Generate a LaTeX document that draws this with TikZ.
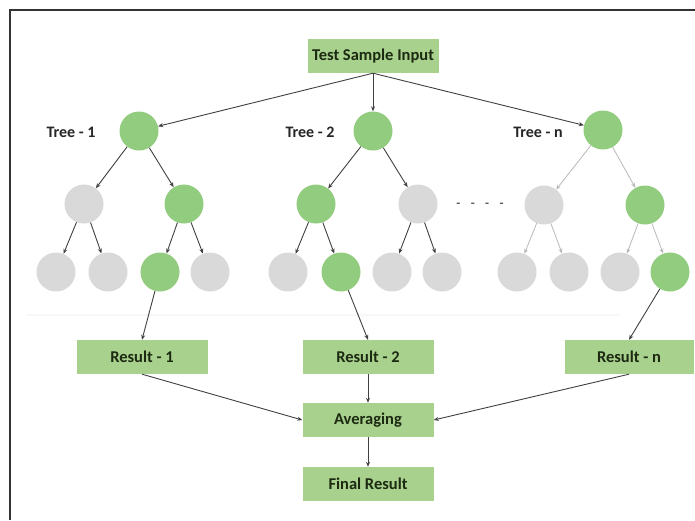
\documentclass[tikz,border=0pt]{standalone}
\usepackage{fontspec}
\setmainfont{Carlito}
\usetikzlibrary{arrows.meta}
\definecolor{boxgreen}{HTML}{A9D18E}
\definecolor{nodegreen}{HTML}{92CC7E}
\definecolor{nodegray}{HTML}{D9D9D9}
\definecolor{inkdark}{HTML}{1C2A12}
\definecolor{arrowdark}{HTML}{404040}
\tikzset{
  box/.style={rectangle, fill=boxgreen, minimum width=131pt, minimum height=34pt,
              inner sep=0pt, font=\bfseries\fontsize{16.5}{18}\selectfont, text=inkdark},
  gnode/.style={circle, fill=nodegreen, minimum size=39pt, inner sep=0pt},
  wnode/.style={circle, fill=nodegray, minimum size=39pt, inner sep=0pt},
  treelabel/.style={font=\bfseries\fontsize{16}{18}\selectfont, text=black!85},
  link/.style={draw=arrowdark, line width=0.9pt, -{Stealth[length=5pt,width=4pt]}},
  faintlink/.style={draw=gray!55, line width=0.8pt, -{Stealth[length=5pt,width=4pt]}},
}
\begin{document}
\begin{tikzpicture}[x=1pt,y=-1pt]
  \useasboundingbox (0,0) rectangle (695,520);
  \fill[white] (0,0) rectangle (695,520);
  % frame edges
  \draw[line width=2pt, black!80] (9.5,520) -- (9.5,10) -- (695,10);
  % faint separator
  \draw[line width=2pt, black!3] (27,315) -- (620,315);

  % input
  \node[box] (in) at (373,56) {Test Sample Input};

  % tree 1
  \node[gnode] (a0) at (139,131) {};
  \node[wnode] (a1) at (84,204) {};
  \node[gnode] (a2) at (184,204) {};
  \node[wnode] (a3) at (56,272) {};
  \node[wnode] (a4) at (108,272) {};
  \node[gnode] (a5) at (160,272) {};
  \node[wnode] (a6) at (210,272) {};
  \node[treelabel] (la) at (71,132) {Tree - 1};

  % tree 2
  \node[gnode] (b0) at (373,131) {};
  \node[gnode] (b1) at (316,204) {};
  \node[wnode] (b2) at (418,204) {};
  \node[wnode] (b3) at (288,272) {};
  \node[gnode] (b4) at (341,272) {};
  \node[wnode] (b5) at (392,272) {};
  \node[wnode] (b6) at (442,272) {};
  \node[treelabel] (lb) at (310,132) {Tree - 2};

  % tree n
  \node[gnode] (c0) at (603,130) {};
  \node[wnode] (c1) at (544,205) {};
  \node[gnode] (c2) at (645,205) {};
  \node[wnode] (c3) at (517,272) {};
  \node[wnode] (c4) at (569,272) {};
  \node[wnode] (c5) at (620,272) {};
  \node[gnode] (c6) at (670,272) {};
  \node[treelabel] (lc) at (538,132) {Tree - n};

  \node[font=\bfseries\fontsize{13}{14}\selectfont, text=black!65] (dots) at (480,205)
    {-\hspace{10.5pt}-\hspace{10.5pt}-\hspace{10.5pt}-};

  % results
  \node[box] (r1) at (142,357) {Result - 1};
  \node[box] (r2) at (368,357) {Result - 2};
  \node[box, minimum width=129pt] (rn) at (629,357) {Result - n};
  \node[box] (avg) at (368,420) {Averaging};
  \node[box] (fin) at (368,484) {Final Result};

  % input to roots
  \coordinate (inb) at (in.south);
  \draw[link] (inb) -- (a0);
  \draw[link] (inb) -- (b0);
  \draw[link] (inb) -- (c0);

  % tree 1 edges
  \draw[link] (a0) -- (a1);
  \draw[link] (a0) -- (a2);
  \draw[link] (a1) -- (a3);
  \draw[link] (a1) -- (a4);
  \draw[link] (a2) -- (a5);
  \draw[link] (a2) -- (a6);

  % tree 2 edges
  \draw[link] (b0) -- (b1);
  \draw[link] (b0) -- (b2);
  \draw[link] (b1) -- (b3);
  \draw[link] (b1) -- (b4);
  \draw[link] (b2) -- (b5);
  \draw[link] (b2) -- (b6);

  % tree n edges
  \draw[faintlink] (c0) -- (c1);
  \draw[faintlink] (c0) -- (c2);
  \draw[faintlink] (c1) -- (c3);
  \draw[faintlink] (c1) -- (c4);
  \draw[faintlink] (c2) -- (c5);
  \draw[faintlink] (c2) -- (c6);

  % leaves to results
  \draw[link] (a5) -- (r1.north);
  \draw[link] (b4) -- (r2.north);
  \draw[link] (c6) -- (rn.north);

  % aggregation
  \draw[link] (r1.south) -- (avg.west);
  \draw[link] (r2.south) -- (avg.north);
  \draw[link] (rn.south) -- (avg.east);
  \draw[link] (avg.south) -- (fin.north);
\end{tikzpicture}
\end{document}
